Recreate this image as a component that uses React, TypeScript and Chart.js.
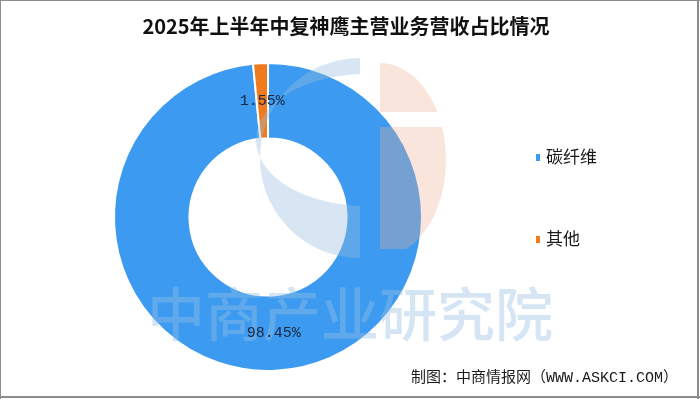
import React, { useEffect, useRef } from 'react';
import { Chart, registerables } from 'chart.js';

Chart.register(...registerables);

const categories: string[] = ['碳纤维', '其他'];
const shares: number[] = [98.45, 1.55];
const sliceColors: string[] = ['#3C9BF0', '#F07B1E'];
const titleText = '2025年上半年中复神鹰主营业务营收占比情况';
const sourceText = '制图：中商情报网（WWW.ASKCI.COM）';
const watermarkText = '中商产业研究院';

const decorPlugin = {
  id: 'decor',
  afterDatasetsDraw(chart: any) {
    const ctx: CanvasRenderingContext2D = chart.ctx;
    // watermark logo
    ctx.save();
    // blue crescent
    ctx.beginPath();
    ctx.rect(240, 50, 120, 220);
    ctx.clip();
    ctx.beginPath();
    ctx.arc(360, 158, 100, 0, Math.PI * 2);
    ctx.ellipse(366, 140, 110, 66, 0, 0, Math.PI * 2);
    ctx.fillStyle = 'rgba(150, 190, 222, 0.38)';
    ctx.fill('evenodd');
    ctx.restore();
    // peach half
    ctx.save();
    ctx.beginPath();
    ctx.rect(380, 50, 100, 62);
    ctx.rect(380, 127, 100, 122);
    ctx.clip();
    ctx.beginPath();
    ctx.ellipse(380, 160, 66, 97, 0, 0, Math.PI * 2);
    ctx.fillStyle = 'rgba(240, 175, 145, 0.32)';
    ctx.fill();
    ctx.restore();
    // watermark text
    ctx.save();
    ctx.font = '500 58px "Noto Sans CJK SC"';
    ctx.fillStyle = 'rgba(150, 190, 225, 0.4)';
    ctx.textAlign = 'center';
    ctx.textBaseline = 'middle';
    ctx.fillText(watermarkText, 350, 314);
    ctx.restore();

    // value labels
    const meta = chart.getDatasetMeta(0);
    const ds = chart.data.datasets[0].data as number[];
    ctx.save();
    ctx.font = '15px "Liberation Mono", "DejaVu Sans Mono", monospace';
    ctx.fillStyle = '#1B2640';
    ctx.textAlign = 'center';
    ctx.textBaseline = 'middle';
    meta.data.forEach((arc: any, i: number) => {
      const p = arc.tooltipPosition(true);
      ctx.fillText(ds[i].toFixed(2) + '%', p.x, p.y);
    });
    ctx.restore();
  },
  afterDraw(chart: any) {
    const ctx: CanvasRenderingContext2D = chart.ctx;
    ctx.save();
    // title
    ctx.font = 'bold 20px "Noto Sans CJK SC"';
    ctx.fillStyle = '#111111';
    ctx.textAlign = 'center';
    ctx.textBaseline = 'middle';
    ctx.fillText(titleText, 346, 26);
    // legend
    ctx.font = '17px "Noto Sans CJK SC"';
    ctx.textAlign = 'left';
    categories.forEach((c, i) => {
      const y = 157 + i * 82;
      ctx.fillStyle = sliceColors[i];
      ctx.fillRect(536, y - 3, 4, 7);
      ctx.fillStyle = '#1a1a1a';
      ctx.fillText(c, 546, y);
    });
    // source
    ctx.font = '15px "Liberation Mono", "Noto Sans CJK SC"';
    ctx.textAlign = 'right';
    ctx.fillStyle = '#1a1a1a';
    ctx.fillText(sourceText, 678, 378);
    // frame
    ctx.strokeStyle = '#8c8c8c';
    ctx.lineWidth = 1;
    ctx.beginPath();
    ctx.moveTo(0, 0.5);
    ctx.lineTo(700, 0.5);
    ctx.moveTo(0.5, 0);
    ctx.lineTo(0.5, 399);
    ctx.stroke();
    ctx.lineWidth = 2;
    ctx.beginPath();
    ctx.moveTo(698, 0);
    ctx.lineTo(698, 399);
    ctx.moveTo(0, 397);
    ctx.lineTo(700, 397);
    ctx.stroke();
    ctx.restore();
  },
};

export default function App() {
  const ref = useRef<HTMLCanvasElement | null>(null);
  useEffect(() => {
    if (!ref.current) return;
    const chart = new Chart(ref.current, {
      type: 'doughnut',
      data: {
        labels: categories,
        datasets: [
          {
            data: shares,
            backgroundColor: sliceColors,
            borderColor: '#ffffff',
            borderWidth: 2,
          },
        ],
      },
      options: {
        responsive: false,
        animation: false,
        cutout: '51%',
        rotation: 0,
        layout: { padding: { left: 113, right: 277, top: 62, bottom: 27 } },
        plugins: {
          legend: { display: false },
          tooltip: { enabled: false },
          title: { display: false },
        },
        events: [],
      },
      plugins: [decorPlugin],
    } as any);
    return () => chart.destroy();
  }, []);
  return (
    <div style={{ position: 'fixed', left: 0, top: 0, width: 700, height: 399, background: '#fff' }}>
      <canvas ref={ref} width={700} height={399} style={{ width: 700, height: 399, display: 'block' }} />
    </div>
  );
}
